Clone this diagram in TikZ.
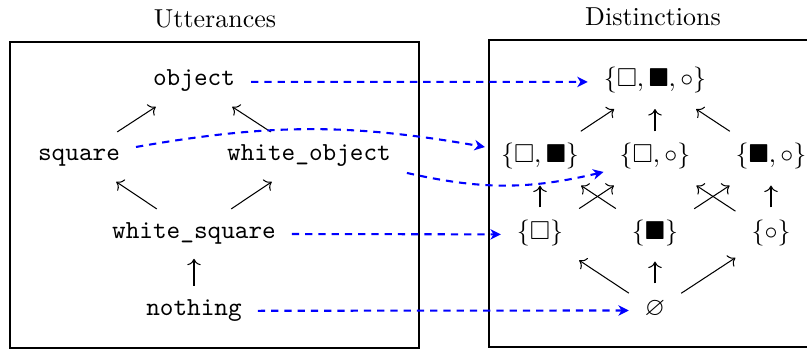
\documentclass[tikz,border=0pt]{standalone}
\usepackage{amssymb}
\usetikzlibrary{arrows.meta}

\begin{document}
\begin{tikzpicture}[x=0.385pt, y=-0.385pt,
  utt/.style={font=\ttfamily, anchor=base, inner xsep=6pt, inner ysep=2.5pt,
              text height=8.5pt, text depth=5.3pt},
  dist/.style={anchor=base, inner xsep=6pt, inner ysep=2.5pt,
               text height=9.5pt, text depth=6pt},
  order/.style={->},
  meaning/.style={blue, thick, dash pattern=on 2.8pt off 2.3pt,
                  -{Stealth[length=4pt, width=4pt, inset=1.2pt]}},
  frame/.style={draw, line width=0.4pt}]

  \clip (0,0) rectangle (807,349);

  % panel titles and frames
  \node[anchor=base] (tl) at (215,28) {Utterances};
  \node[anchor=base] (tr) at (653,26) {Distinctions};
  \draw[frame] (10,42) rectangle (419,348);
  \draw[frame] (489,40) rectangle (812,347);

  % utterances, ordered by specificity
  \node[utt] (obj) at (194,86)  {object};
  \node[utt] (sq)  at (79,161)  {square};
  \node[utt] (wo)  at (309,161) {white\_object};
  \node[utt] (ws)  at (194,238) {white\_square};
  \node[utt] (no)  at (194,315) {nothing};

  \draw[order] (sq) -- (obj);
  \draw[order] (wo) -- (obj);
  \draw[order] (ws) -- (sq);
  \draw[order] (ws) -- (wo);
  \draw[order] (no) -- (ws);

  % lattice of distinctions
  \node[dist] (t123) at (655,86.5) {$\{\square,\blacksquare,\circ\}$};
  \node[dist] (t12)  at (540,163)  {$\{\square,\blacksquare\}$};
  \node[dist] (t13)  at (655,163)  {$\{\square,\circ\}$};
  \node[dist] (t23)  at (771,163)  {$\{\blacksquare,\circ\}$};
  \node[dist] (s1)   at (540,239)  {$\{\square\}$};
  \node[dist] (s2)   at (655,239)  {$\{\blacksquare\}$};
  \node[dist] (s3)   at (771,239)  {$\{\circ\}$};
  \node[dist] (emp)  at (655,315)  {$\varnothing$};

  \draw[order] (t12) -- (t123);
  \draw[order] (t13) -- (t123);
  \draw[order] (t23) -- (t123);
  \draw[order] (s1) -- (t12);
  \draw[order] (s1) -- (t13);
  \draw[order] (s2) -- (t12);
  \draw[order] (s2) -- (t23);
  \draw[order] (s3) -- (t13);
  \draw[order] (s3) -- (t23);
  \draw[order] (emp) -- (s1);
  \draw[order] (emp) -- (s2);
  \draw[order] (emp) -- (s3);

  % meaning of each utterance
  \draw[meaning] (obj) -- (t123);
  \draw[meaning] ([yshift=3.8pt]sq.east) to[bend left=10] ([yshift=4.4pt]t12.west);
  \draw[meaning] ([yshift=-6.2pt]wo.east) to[bend right=13] ([yshift=-5.2pt]t13.west);
  \draw[meaning] (ws) -- (s1);
  \draw[meaning] (no) -- (emp);
\end{tikzpicture}
\end{document}
